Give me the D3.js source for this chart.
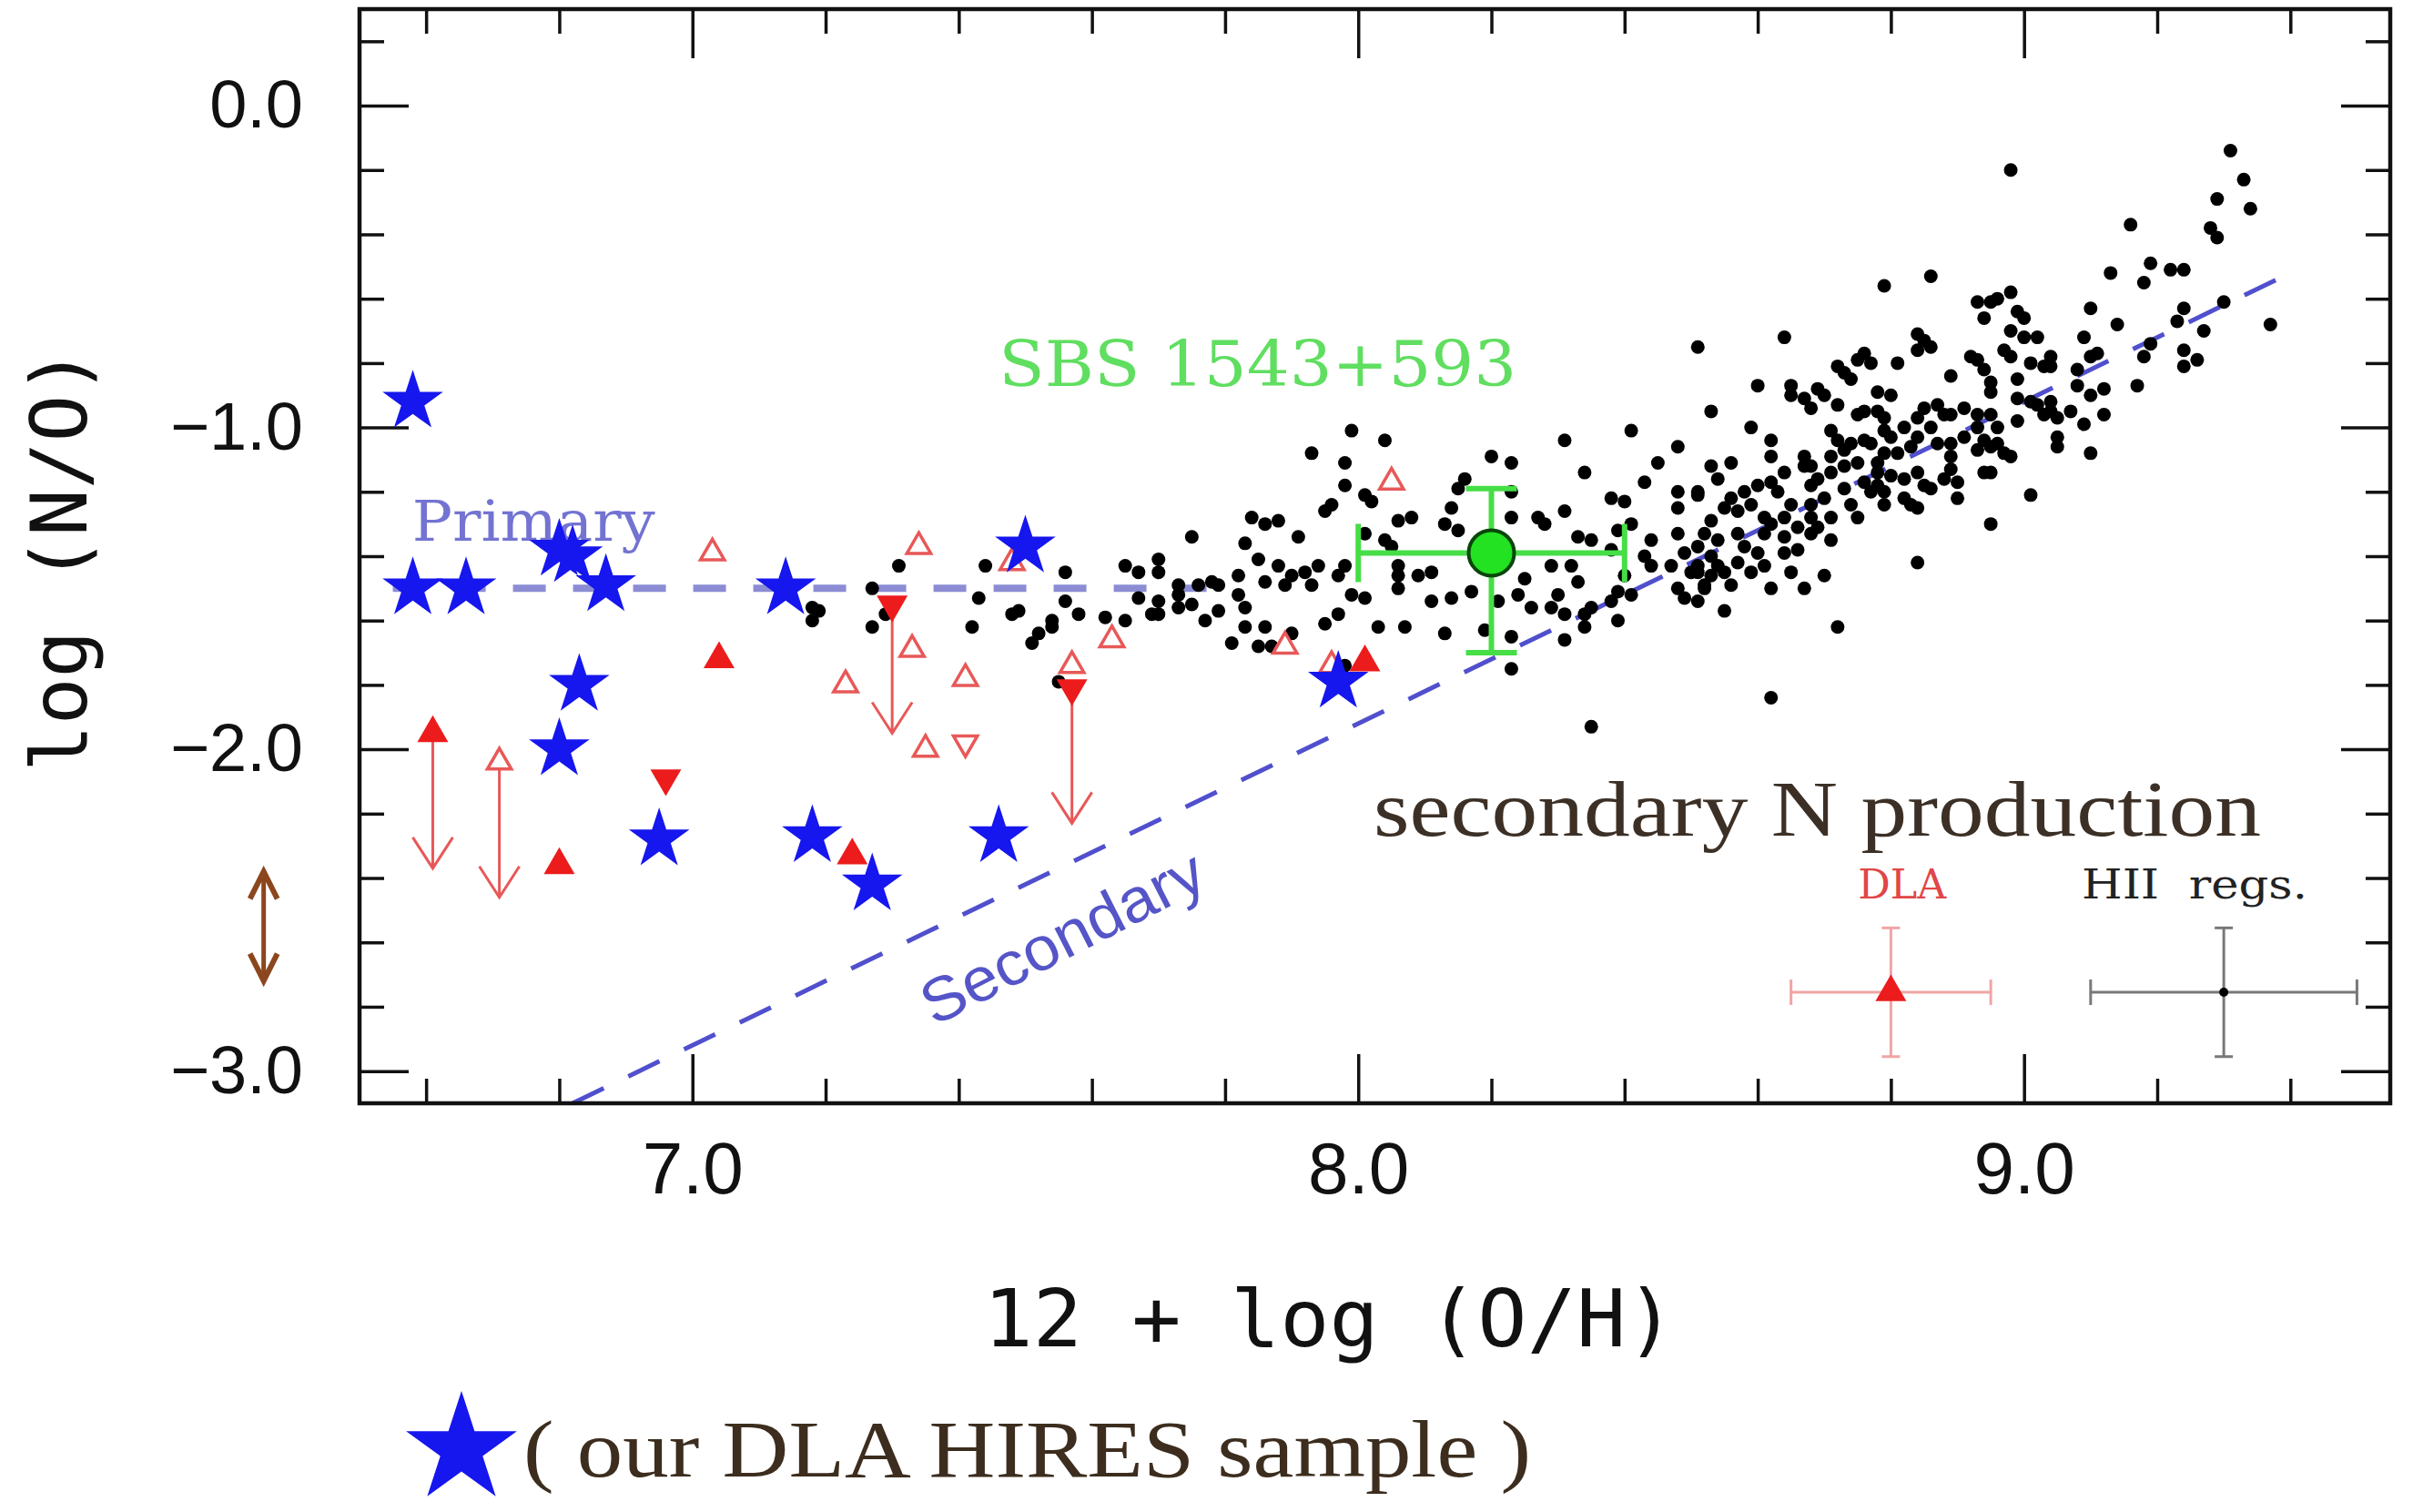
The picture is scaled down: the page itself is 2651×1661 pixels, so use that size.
<!DOCTYPE html>
<html>
<head>
<meta charset="utf-8">
<script src="https://cdn.jsdelivr.net/npm/d3@7"></script>
<style>
  body { margin: 0; background: #fff; }
</style>
</head>
<body>
<svg id="drawing_region"></svg>
<script>
// HII regions: [12+log(O/H), log(N/O)]
const hiiRegions = [
  [7.18,-1.56],[7.19,-1.57],[7.18,-1.60],[7.27,-1.50],[7.27,-1.62],[7.29,-1.58],[7.31,-1.43],[7.44,-1.43],[7.43,-1.53],[7.42,-1.62],
  [7.48,-1.58],[7.49,-1.57],[7.51,-1.67],[7.52,-1.64],[7.54,-1.62],[7.54,-1.60],[7.56,-1.45],[7.56,-1.54],[7.58,-1.58],[7.55,-1.79],
  [7.62,-1.59],[7.65,-1.60],[7.65,-1.43],[7.67,-1.45],[7.70,-1.41],[7.70,-1.45],[7.67,-1.53],[7.69,-1.58],[7.70,-1.58],[7.70,-1.54],
  [7.73,-1.49],[7.73,-1.52],[7.73,-1.56],[7.75,-1.55],[7.75,-1.34],[7.76,-1.49],[7.77,-1.60],[7.78,-1.48],[7.79,-1.57],[7.79,-1.49],
  [7.82,-1.46],[7.82,-1.52],[7.83,-1.56],[7.83,-1.62],[7.81,-1.67],[7.83,-1.36],[7.84,-1.28],[7.86,-1.30],[7.85,-1.41],[7.86,-1.48],
  [7.85,-1.68],[7.99,-1.01],[8.04,-1.04],[7.93,-1.08],[7.98,-1.11],[7.98,-1.18],[8.01,-1.21],[8.02,-1.23],[7.96,-1.24],[7.95,-1.26],
  [7.88,-1.29],[7.91,-1.34],[7.88,-1.43],[7.90,-1.46],[7.92,-1.45],[7.93,-1.49],[7.94,-1.43],[7.89,-1.49],[7.97,-1.46],[7.98,-1.43],
  [7.99,-1.52],[8.01,-1.53],[8.01,-1.33],[8.04,-1.35],[8.05,-1.37],[8.06,-1.29],[8.08,-1.28],[8.06,-1.43],[8.06,-1.46],[8.06,-1.50],
  [8.09,-1.46],[8.11,-1.45],[8.14,-1.25],[8.13,-1.30],[8.15,-1.32],[8.16,-1.16],[8.15,-1.19],[8.20,-1.09],[8.23,-1.11],[8.23,-1.20],
  [8.23,-1.28],[8.11,-1.54],[8.14,-1.53],[8.17,-1.51],[8.03,-1.62],[8.07,-1.62],[8.13,-1.64],[8.19,-1.63],[7.95,-1.61],[7.97,-1.58],
  [8.21,-1.54],[8.24,-1.52],[8.25,-1.47],[8.23,-1.65],[8.23,-1.75],[8.26,-1.56],[8.27,-1.28],[8.28,-1.30],[8.31,-1.04],[8.34,-1.14],
  [8.31,-1.26],[8.29,-1.43],[8.32,-1.43],[8.33,-1.48],[8.33,-1.34],[8.35,-1.35],[8.30,-1.52],[8.29,-1.56],[8.31,-1.58],[8.31,-1.66],
  [8.34,-1.58],[8.35,-1.56],[8.34,-1.62],[8.39,-1.60],[8.38,-1.54],[8.41,-1.01],[8.45,-1.11],[8.43,-1.17],[8.48,-1.06],[8.48,-1.20],
  [8.51,-1.21],[8.48,-1.25],[8.38,-1.22],[8.40,-1.23],[8.41,-1.30],[8.39,-1.32],[8.38,-1.38],[8.44,-1.35],[8.43,-1.40],[8.44,-1.43],
  [8.48,-1.33],[8.49,-1.39],[8.47,-1.43],[8.40,-1.46],[8.39,-1.51],[8.41,-1.52],[8.48,-1.50],[8.49,-1.53],[8.52,-1.50],[8.51,-1.45],
  [8.35,-1.93],[8.62,-1.84],[8.72,-1.62],[7.86,-1.62],[7.90,-1.64],[7.87,-1.68],[7.98,-1.74],[8.51,-1.54],[8.55,-1.57],
  [8.79,-0.56],[8.86,-0.53],[8.64,-0.72],[8.60,-0.87],[8.53,-0.95],[8.51,-0.75],[8.59,-1.00],[8.62,-1.04],[8.62,-1.09],[8.56,-1.11],
  [8.53,-1.12],[8.54,-1.16],[8.51,-1.20],[8.65,-0.87],[8.67,-0.91],[8.68,-0.94],[8.65,-0.90],[8.69,-0.88],[8.70,-0.90],[8.72,-0.93],
  [8.72,-0.81],[8.73,-0.83],[8.74,-0.85],[8.76,-0.77],[8.77,-0.80],[8.75,-0.79],[8.81,-0.80],[8.84,-0.76],[8.85,-0.73],[8.84,-0.71],
  [8.86,-0.75],[8.78,-0.89],[8.80,-0.90],[8.76,-0.95],[8.78,-0.95],[8.75,-0.96],[8.79,-0.97],[8.93,-0.61],[8.95,-0.61],[8.96,-0.60],
  [8.98,-0.58],[8.94,-0.66],[8.99,-0.64],[9.00,-0.66],[8.98,-0.70],[9.00,-0.72],[9.02,-0.72],[8.92,-0.78],[8.93,-0.79],[8.89,-0.84],
  [8.94,-0.82],[8.95,-0.86],[8.95,-0.89],[8.97,-0.76],[8.98,-0.78],[9.01,-0.80],[8.99,-0.85],[9.03,-0.81],[8.99,-0.91],[9.01,-0.92],
  [9.03,-0.96],[9.02,-0.93],[9.04,-0.95],[8.99,-0.98],[8.85,-0.94],[8.87,-0.93],[8.84,-0.97],[8.86,-1.00],[8.88,-0.96],[8.89,-0.96],
  [8.91,-0.94],[8.93,-0.96],[8.93,-1.00],[8.95,-0.96],[8.87,-1.05],[8.89,-1.05],[8.89,-1.09],[8.91,-1.03],[8.94,-1.04],[8.96,-1.05],
  [8.97,-1.08],[8.93,-1.07],[8.94,-1.14],[8.95,-1.14],[8.90,-1.17],[8.90,-1.22],[8.88,-1.16],[8.89,-1.13],[8.84,-1.03],[8.83,-1.06],
  [8.82,-1.00],[8.79,-1.01],[8.80,-1.03],[8.81,-1.08],[8.79,-1.08],[8.78,-1.11],[8.78,-1.14],[8.80,-1.15],[8.82,-1.16],[8.84,-1.14],
  [8.85,-1.18],[8.86,-1.19],[8.74,-1.05],[8.76,-1.04],[8.77,-1.05],[8.72,-1.04],[8.71,-1.01],[8.73,-1.07],[8.71,-1.09],[8.68,-1.12],
  [8.69,-1.16],[8.71,-1.14],[8.73,-1.12],[8.75,-1.11],[8.76,-1.17],[8.73,-1.19],[8.78,-1.18],[8.79,-1.20],[8.77,-1.20],[8.74,-1.24],
  [8.75,-1.28],[8.79,-1.24],[8.82,-1.22],[8.83,-1.24],[8.84,-1.25],[8.67,-1.09],[8.67,-1.12],[8.68,-1.18],[8.68,-1.24],[8.68,-1.28],
  [8.70,-1.22],[8.71,-1.28],[8.69,-1.31],[8.71,-1.35],[8.68,-1.33],[8.64,-1.14],[8.63,-1.20],[8.65,-1.24],[8.64,-1.28],[8.66,-1.31],
  [8.64,-1.34],[8.66,-1.38],[8.64,-1.39],[8.62,-1.17],[8.60,-1.18],[8.58,-1.20],[8.56,-1.22],[8.55,-1.25],[8.57,-1.26],[8.59,-1.24],
  [8.61,-1.28],[8.62,-1.30],[8.61,-1.33],[8.53,-1.29],[8.52,-1.33],[8.54,-1.35],[8.51,-1.37],[8.53,-1.40],[8.51,-1.43],[8.50,-1.45],
  [8.57,-1.33],[8.58,-1.37],[8.57,-1.42],[8.60,-1.39],[8.61,-1.43],[8.59,-1.45],[8.55,-1.45],[8.56,-1.49],[8.53,-1.46],[8.52,-1.49],
  [8.54,-1.43],[8.62,-1.50],[8.65,-1.45],[8.67,-1.50],[8.70,-1.46],[8.95,-1.30],[9.01,-1.21],[8.84,-1.42],[8.98,-1.09],[9.05,-1.03],
  [8.98,-0.20],[9.31,-0.14],[9.33,-0.23],[9.29,-0.29],[9.34,-0.32],[9.28,-0.38],[9.29,-0.41],[9.16,-0.37],[9.13,-0.52],[9.19,-0.49],
  [9.18,-0.55],[9.22,-0.51],[9.24,-0.51],[9.10,-0.63],[9.14,-0.68],[9.24,-0.63],[9.23,-0.67],[9.30,-0.61],[9.27,-0.70],[9.37,-0.68],
  [9.19,-0.74],[9.18,-0.78],[9.24,-0.76],[9.26,-0.79],[9.24,-0.81],[9.17,-0.87],[9.09,-0.72],[9.11,-0.77],[9.10,-0.78],[9.08,-0.82],
  [9.08,-0.87],[9.12,-0.88],[9.10,-0.90],[9.12,-0.96],[9.09,-0.99],[9.07,-0.95],[9.10,-1.08],[9.05,-1.06],[9.04,-0.78],[9.04,-0.81],
  [9.04,-0.92],[9.05,-0.97],[8.96,-1.00],[8.95,-1.06]
];

// our DLA HIRES sample (blue stars)
const hiresSample = [
  [6.58,-0.92],[6.58,-1.50],[6.66,-1.50],[6.80,-1.38],[6.82,-1.40],[6.87,-1.49],[7.14,-1.50],[7.50,-1.37],
  [6.83,-1.80],[6.80,-2.00],[6.95,-2.28],[7.18,-2.27],[7.27,-2.42],[7.46,-2.27],[7.97,-1.79]
];

// other DLAs (red)
const dlaFilledUp = [[7.04,-1.72],[6.80,-2.36],[7.24,-2.33],[8.01,-1.73]];
const dlaFilledDown = [[6.96,-2.09]];
const dlaOpenUp = [[7.03,-1.39],[7.34,-1.37],[7.48,-1.42],[8.05,-1.17],[7.33,-1.69],[7.23,-1.80],[7.41,-1.78],
                   [7.35,-2.00],[7.63,-1.66],[7.89,-1.68],[7.96,-1.74],[7.57,-1.74]];
const dlaOpenDown = [[7.41,-1.98]];

// DLA ranges drawn with arrows: x, marker value, arrow tip, marker kind
const limitX = [6.61, 6.71, 7.30, 7.57];
const limitTop = [-1.95, -2.04, -1.55, -1.81];
const limitTip = [-2.37, -2.46, -1.95, -2.23];
const limitMarker = ['filledUp', 'openUp', 'filledDown', 'filledDown'];

// SBS 1543+593
const sbsPoint = [8.20, -1.39];
const sbsErrX = [8.00, 8.40];
const sbsErrY = [-1.70, -1.19];

// model lines
const primaryLine = [[6.55, -1.5], [7.78, -1.5]];
const secondaryLine = [[6.82, -3.10], [9.40, -0.52]];

// typical error bars
const errLabels = ['DLA', 'HII  regs.'];
const errX = [8.80, 9.30];
const errY = [-2.755, -2.755];
const errDx = [0.15, 0.20];
const errDy = [0.20, 0.20];

// brown range arrow on the left
const rangeArrowX = 6.356;
const rangeArrowY = [-2.38, -2.72];

// axes
const xTickValues = [7, 8, 9];
const xTickLabels = ['7.0', '8.0', '9.0'];
const yTickValues = [0, -1, -2, -3];
const yTickLabels = ['0.0', '\u22121.0', '\u22122.0', '\u22123.0'];

const W = 2651, H = 1661;
const margin = { left: 395, top: 10, right: 25, bottom: 449 };

const svg = d3.select('#drawing_region')
  .attr('width', W)
  .attr('height', H);

svg.append('rect').attr('width', W).attr('height', H).attr('fill', '#fff');

const x = d3.scaleLinear().domain([6.5, 9.55]).range([margin.left, W - margin.right]);
const y = d3.scaleLinear().domain([-3.1, 0.3]).range([H - margin.bottom, margin.top]);

const xMinor = d3.range(33, 48).map(i => i / 5).filter(v => !xTickValues.includes(v));
const yMinor = d3.range(-15, 2).map(i => i / 5).filter(v => !yTickValues.includes(v));

const tickFont = '"Liberation Sans", Arial, sans-serif';

function drawAxis(gen, tr, fontSize) {
  const g = svg.append('g').attr('transform', tr).call(gen);
  g.select('.domain').remove();
  g.selectAll('line').attr('stroke', '#111').attr('stroke-width', 3.5);
  g.selectAll('text')
    .attr('font-family', tickFont)
    .attr('font-size', fontSize || 72)
    .attr('fill', '#111');
  return g;
}

const x0 = x.range()[0], x1 = x.range()[1];
const y0 = y.range()[0], y1 = y.range()[1];

drawAxis(d3.axisBottom(x).tickValues(xTickValues).tickSize(-54).tickPadding(42)
  .tickFormat((d, i) => xTickLabels[i]), `translate(0,${y0})`, 80);
drawAxis(d3.axisBottom(x).tickValues(xMinor).tickSize(-27).tickFormat(''), `translate(0,${y0})`);
drawAxis(d3.axisTop(x).tickValues(xTickValues).tickSize(-54).tickFormat(''), `translate(0,${y1})`);
drawAxis(d3.axisTop(x).tickValues(xMinor).tickSize(-27).tickFormat(''), `translate(0,${y1})`);
drawAxis(d3.axisLeft(y).tickValues(yTickValues).tickSize(-54).tickPadding(62)
  .tickFormat((d, i) => yTickLabels[i]), `translate(${x0},0)`, 74);
drawAxis(d3.axisLeft(y).tickValues(yMinor).tickSize(-27).tickFormat(''), `translate(${x0},0)`);
drawAxis(d3.axisRight(y).tickValues(yTickValues).tickSize(-54).tickFormat(''), `translate(${x1},0)`);
drawAxis(d3.axisRight(y).tickValues(yMinor).tickSize(-27).tickFormat(''), `translate(${x1},0)`);

// axis titles
const titleFont = '"DejaVu Sans Mono", monospace';
svg.append('text')
  .attr('transform', `translate(95,${(y0 + y1) / 2 + 4}) rotate(-90)`)
  .attr('text-anchor', 'middle')
  .attr('font-family', titleFont)
  .attr('font-size', 86)
  .attr('fill', '#111')
  .text('log (N/O)');

svg.append('text')
  .attr('x', (x0 + x1) / 2 - 50)
  .attr('y', 1479)
  .attr('text-anchor', 'middle')
  .attr('font-family', titleFont)
  .attr('font-size', 88)
  .attr('textLength', 760)
  .attr('lengthAdjust', 'spacingAndGlyphs')
  .attr('fill', '#111')
  .text('12 + log (O/H)');

const line = d3.line().x(d => x(d[0])).y(d => y(d[1]));

// primary / secondary lines
svg.append('path')
  .attr('d', line(primaryLine))
  .attr('fill', 'none')
  .attr('stroke', 'rgb(140,140,212)')
  .attr('stroke-width', 8)
  .attr('stroke-dasharray', '36,30');

svg.append('path')
  .attr('d', line(secondaryLine))
  .attr('fill', 'none')
  .attr('stroke', 'rgb(80,80,205)')
  .attr('stroke-width', 5)
  .attr('stroke-dasharray', '38,30');

// model labels
svg.append('text')
  .attr('x', x(6.579))
  .attr('y', y(-1.352))
  .attr('font-family', '"DejaVu Serif", serif')
  .attr('font-size', 62)
  .attr('textLength', 267)
  .attr('lengthAdjust', 'spacingAndGlyphs')
  .attr('fill', 'rgb(115,115,210)')
  .text('Primary');

svg.append('text')
  .attr('transform', `translate(${x(7.555)},${y(-2.583)}) rotate(-27)`)
  .attr('text-anchor', 'middle')
  .attr('dominant-baseline', 'central')
  .attr('font-family', '"Liberation Sans", Arial, sans-serif')
  .attr('font-size', 68)
  .attr('textLength', 340)
  .attr('lengthAdjust', 'spacingAndGlyphs')
  .attr('fill', 'rgb(85,85,200)')
  .text('Secondary');

// HII regions
svg.append('g')
  .selectAll('circle')
  .data(hiiRegions)
  .enter()
  .append('circle')
  .attr('cx', d => x(d[0]))
  .attr('cy', d => y(d[1]))
  .attr('r', 7.5)
  .attr('fill', '#000');

// red DLA markers
const red = 'rgb(236,28,28)';
const redLight = 'rgb(232,88,88)';
const triBig = d3.symbol().type(d3.symbolTriangle).size(500)();
const triSmall = d3.symbol().type(d3.symbolTriangle).size(300)();

// limit arrows
const limits = limitX.map((v, i) => ({ x: v, top: limitTop[i], tip: limitTip[i], kind: limitMarker[i] }));
const lg = svg.append('g');
lg.selectAll('line')
  .data(limits)
  .enter()
  .append('line')
  .attr('x1', d => x(d.x)).attr('x2', d => x(d.x))
  .attr('y1', d => y(d.top)).attr('y2', d => y(d.tip))
  .attr('stroke', redLight)
  .attr('stroke-width', 3);
lg.selectAll('path.head')
  .data(limits)
  .enter()
  .append('path')
  .attr('class', 'head')
  .attr('d', d => `M${x(d.x) - 22},${y(d.tip) - 34} L${x(d.x)},${y(d.tip)} L${x(d.x) + 22},${y(d.tip) - 34}`)
  .attr('fill', 'none')
  .attr('stroke', redLight)
  .attr('stroke-width', 3);

function markers(data, path, rot, filled) {
  svg.append('g')
    .selectAll('path')
    .data(data)
    .enter()
    .append('path')
    .attr('d', path)
    .attr('transform', d => `translate(${x(d[0])},${y(d[1])}) rotate(${rot})`)
    .attr('fill', filled ? red : '#fff')
    .attr('stroke', filled ? 'none' : redLight)
    .attr('stroke-width', 3.5);
}

const limitUpFilled = limits.filter(d => d.kind === 'filledUp').map(d => [d.x, d.top]);
const limitUpOpen = limits.filter(d => d.kind === 'openUp').map(d => [d.x, d.top]);
const limitDownFilled = limits.filter(d => d.kind === 'filledDown').map(d => [d.x, d.top]);

markers(dlaOpenUp.concat(limitUpOpen), triSmall, 0, false);
markers(dlaOpenDown, triSmall, 180, false);
markers(dlaFilledUp.concat(limitUpFilled), triBig, 0, true);
markers(dlaFilledDown.concat(limitDownFilled), triBig, 180, true);

// blue stars
const blue = 'rgb(22,22,238)';
svg.append('g')
  .selectAll('path')
  .data(hiresSample)
  .enter()
  .append('path')
  .attr('d', d3.symbol().type(d3.symbolStar).size(1375))
  .attr('transform', d => `translate(${x(d[0])},${y(d[1])})`)
  .attr('fill', blue);

// SBS 1543+593
const green = 'rgb(70,222,70)';
const sg = svg.append('g');
const sx = x(sbsPoint[0]), sy = y(sbsPoint[1]);
sg.append('line')
  .attr('x1', x(sbsErrX[0])).attr('x2', x(sbsErrX[1]))
  .attr('y1', sy).attr('y2', sy)
  .attr('stroke', green).attr('stroke-width', 6);
sg.append('line')
  .attr('x1', sx).attr('x2', sx)
  .attr('y1', y(sbsErrY[0])).attr('y2', y(sbsErrY[1]))
  .attr('stroke', green).attr('stroke-width', 6);
sbsErrX.forEach(v => {
  sg.append('line')
    .attr('x1', x(v)).attr('x2', x(v))
    .attr('y1', sy - 32).attr('y2', sy + 32)
    .attr('stroke', green).attr('stroke-width', 6);
});
sbsErrY.forEach(v => {
  sg.append('line')
    .attr('x1', sx - 28).attr('x2', sx + 28)
    .attr('y1', y(v)).attr('y2', y(v))
    .attr('stroke', green).attr('stroke-width', 6);
});
sg.append('circle')
  .attr('cx', sx).attr('cy', sy).attr('r', 25)
  .attr('fill', 'rgb(34,226,34)')
  .attr('stroke', 'rgb(10,70,10)')
  .attr('stroke-width', 4);

svg.append('text')
  .attr('x', x(7.46))
  .attr('y', y(-0.871))
  .attr('font-family', '"DejaVu Serif", serif')
  .attr('font-size', 70)
  .attr('textLength', 569)
  .attr('lengthAdjust', 'spacingAndGlyphs')
  .attr('fill', 'rgb(96,222,96)')
  .text('SBS 1543+593');

// typical error bars
const errColors = ['rgb(240,165,165)', 'rgb(120,120,120)'];
const errTextColors = ['rgb(225,70,70)', '#222'];
errLabels.forEach((lab, i) => {
  const g = svg.append('g');
  const cx = x(errX[i]), cy = y(errY[i]);
  const xl = x(errX[i] - errDx[i]), xr = x(errX[i] + errDx[i]);
  const yt = y(errY[i] + errDy[i]), yb = y(errY[i] - errDy[i]);
  const c = errColors[i];
  g.append('line').attr('x1', xl).attr('x2', xr).attr('y1', cy).attr('y2', cy).attr('stroke', c).attr('stroke-width', 3);
  g.append('line').attr('x1', cx).attr('x2', cx).attr('y1', yt).attr('y2', yb).attr('stroke', c).attr('stroke-width', 3);
  [xl, xr].forEach(v => g.append('line').attr('x1', v).attr('x2', v).attr('y1', cy - 14).attr('y2', cy + 14).attr('stroke', c).attr('stroke-width', 3));
  [yt, yb].forEach(v => g.append('line').attr('x1', cx - 10).attr('x2', cx + 10).attr('y1', v).attr('y2', v).attr('stroke', c).attr('stroke-width', 3));
  if (i === 0) {
    g.append('path').attr('d', triBig).attr('transform', `translate(${cx},${cy})`).attr('fill', red);
  } else {
    g.append('circle').attr('cx', cx).attr('cy', cy).attr('r', 5).attr('fill', '#000');
  }
});

svg.append('text')
  .attr('x', x(8.817)).attr('y', y(-2.464))
  .attr('text-anchor', 'middle')
  .attr('font-family', '"DejaVu Serif", serif')
  .attr('font-size', 44)
  .attr('textLength', 97)
  .attr('lengthAdjust', 'spacingAndGlyphs')
  .attr('fill', errTextColors[0])
  .text(errLabels[0]);

svg.append('text')
  .attr('x', x(9.256)).attr('y', y(-2.464))
  .attr('text-anchor', 'middle')
  .attr('font-family', '"DejaVu Serif", serif')
  .attr('font-size', 44)
  .attr('textLength', 248)
  .attr('lengthAdjust', 'spacingAndGlyphs')
  .attr('fill', errTextColors[1])
  .style('white-space', 'pre')
  .text(errLabels[1]);

// annotation
svg.append('text')
  .attr('x', x(8.023)).attr('y', y(-2.269))
  .attr('font-family', '"Liberation Serif", "Times New Roman", serif')
  .attr('font-size', 86)
  .attr('textLength', 975)
  .attr('lengthAdjust', 'spacingAndGlyphs')
  .attr('fill', 'rgb(60,48,38)')
  .text('secondary N production');

// brown range arrow
const brown = 'rgb(140,70,30)';
const bx = x(rangeArrowX), byTop = y(rangeArrowY[0]), byBot = y(rangeArrowY[1]);
svg.append('line')
  .attr('x1', bx).attr('x2', bx).attr('y1', byTop + 4).attr('y2', byBot - 4)
  .attr('stroke', brown).attr('stroke-width', 5);
svg.append('path')
  .attr('d', `M${bx - 15},${byTop + 30} L${bx},${byTop} L${bx + 15},${byTop + 30}`)
  .attr('fill', 'none').attr('stroke', brown).attr('stroke-width', 6);
svg.append('path')
  .attr('d', `M${bx - 15},${byBot - 30} L${bx},${byBot} L${bx + 15},${byBot - 30}`)
  .attr('fill', 'none').attr('stroke', brown).attr('stroke-width', 6);

// frame
svg.append('rect')
  .attr('x', x0).attr('y', y1)
  .attr('width', x1 - x0).attr('height', y0 - y1)
  .attr('fill', 'none')
  .attr('stroke', '#111')
  .attr('stroke-width', 4.5);

// legend
svg.append('path')
  .attr('d', d3.symbol().type(d3.symbolStar).size(4600))
  .attr('transform', 'translate(507,1592)')
  .attr('fill', blue);

svg.append('text')
  .attr('x', 575).attr('y', 1622)
  .attr('font-family', '"Liberation Serif", "Times New Roman", serif')
  .attr('font-size', 88)
  .attr('textLength', 1107)
  .attr('lengthAdjust', 'spacingAndGlyphs')
  .attr('fill', 'rgb(60,45,30)')
  .text('( our DLA HIRES sample )');
</script>
</body>
</html>
